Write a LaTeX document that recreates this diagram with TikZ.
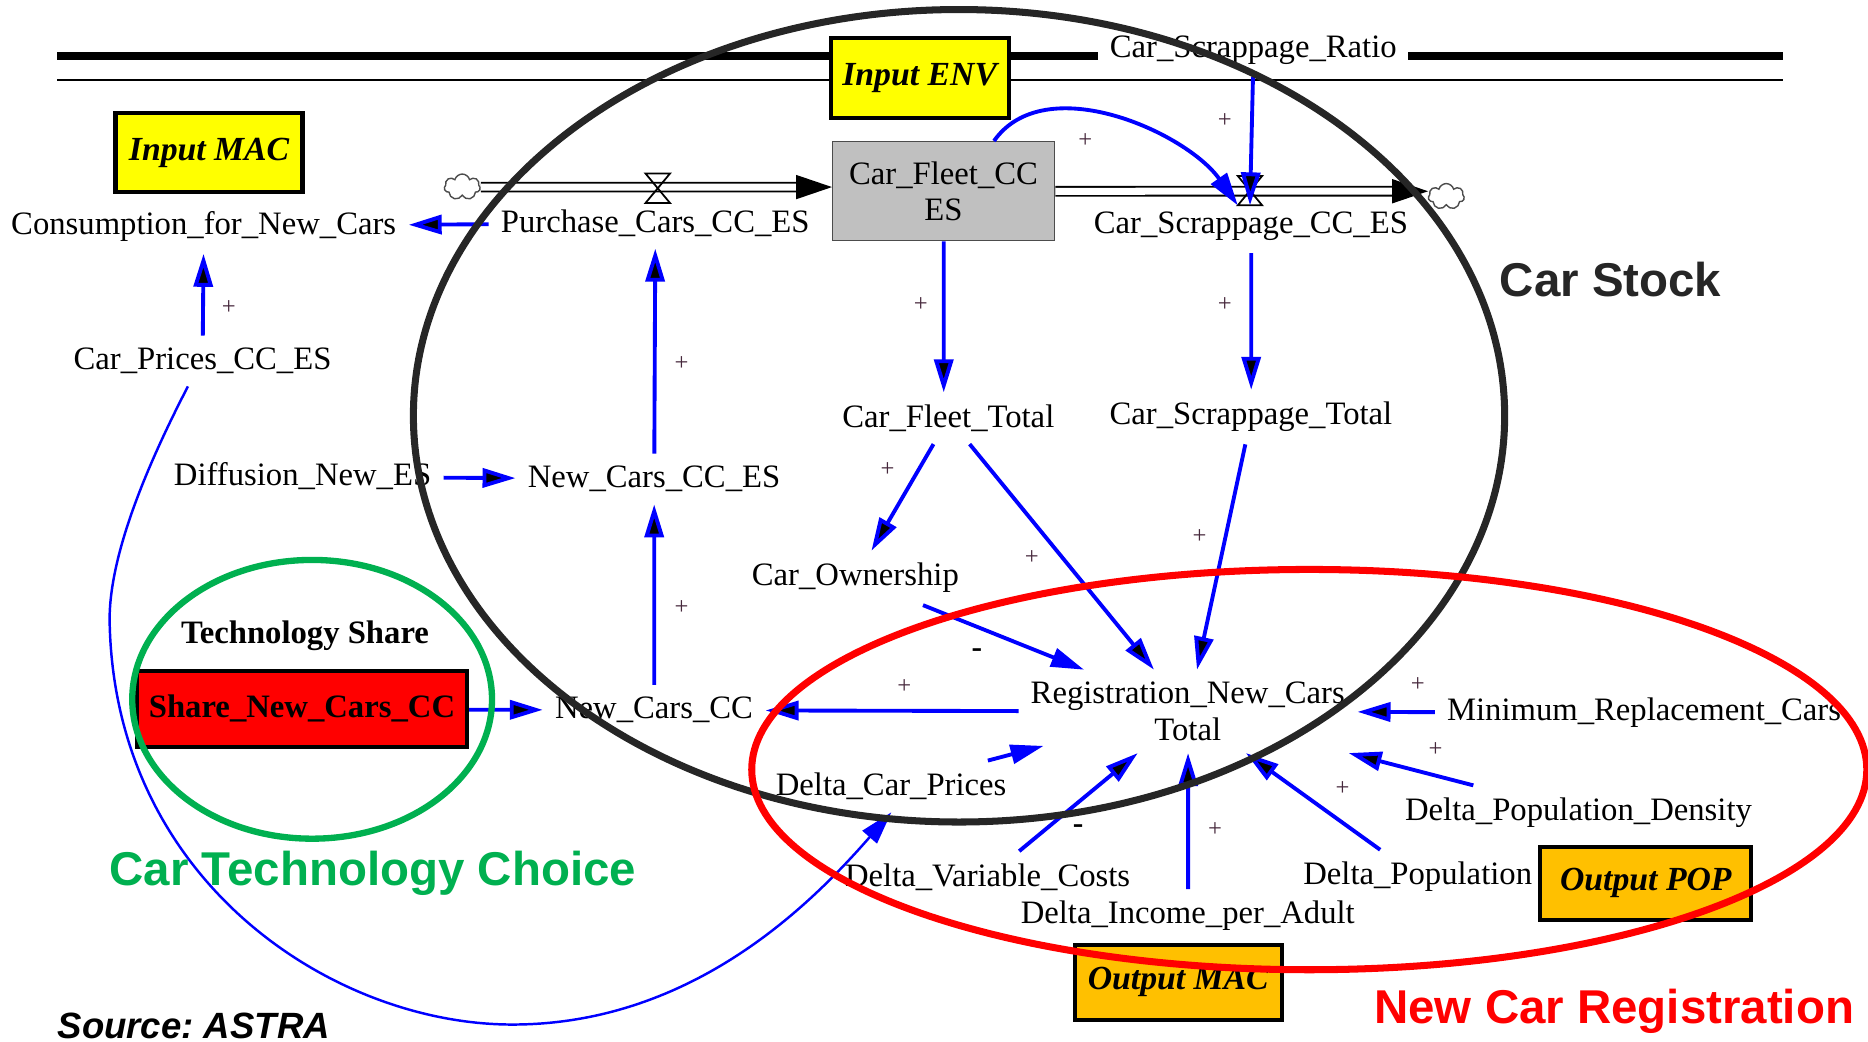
\documentclass[tikz,border=0pt]{standalone}
\usepackage{fontspec}
\setmainfont{Liberation Serif}
\setsansfont{Liberation Sans}
\usetikzlibrary{arrows.meta, shapes.symbols}

\newcommand{\scalefac}{1.1913}

\definecolor{linkblue}{RGB}{0,0,255}
\definecolor{inyellow}{RGB}{255,255,0}
\definecolor{outorange}{RGB}{255,192,0}
\definecolor{stockgray}{RGB}{192,192,192}
\definecolor{choicegreen}{RGB}{0,176,80}
\definecolor{ringblack}{RGB}{38,38,38}
\definecolor{polcol}{RGB}{70,40,60}

\tikzset{
  var/.style = {font = \fontsize{9.3}{10.4}\selectfont, align = center},
  varbox/.style = {draw, line width = 1.2pt, font = \fontsize{9.6}{11}\selectfont\bfseries\itshape},
  link/.style = {draw = linkblue, line width = 1.1pt, -{Triangle[length = 3.3mm, width = 1.9mm]}},
  pipe/.style = {draw = black, double = white, double distance = 0.7mm, line width = 0.5pt, -{Triangle[length = 3.6mm, width = 2.4mm]}},
  pol/.style = {font = \fontsize{7}{7}\selectfont, text = polcol, inner sep = 0pt},
  neg/.style = {font = \fontsize{9}{9}\selectfont\bfseries, inner sep = 0pt},
  cloudy/.style = {cloud, cloud puffs = 7, cloud ignores aspect, draw = black!70, minimum width = 3.6mm, minimum height = 2.6mm, inner sep = 0pt},
  valve/.style = {minimum width = 2.3mm, minimum height = 2.8mm, inner sep = 0pt},
  region/.style = {font = \fontsize{13.5}{14}\selectfont\sffamily\bfseries}
}

\begin{document}
\begin{tikzpicture}[scale = \scalefac, x = 1cm, y = -1cm]

\useasboundingbox (0,0) rectangle (15.68,8.74);

\draw [line width = 2.3pt] (0.48,0.47) -- (14.97,0.47);
\draw [line width = 0.4pt] (0.48,0.67) -- (14.97,0.67);

\node [varbox, fill = inyellow, minimum width = 1.87cm, minimum height = 0.79cm] (v1) at (1.755,1.28) {Input MAC};
\node [varbox, fill = inyellow, minimum width = 1.69cm, minimum height = 0.80cm] (v2) at (7.72,0.655) {Input ENV};
\node [var] (v3) at (1.71,1.90) {Consumption\_for\_New\_Cars};
\node [var] (v4) at (5.50,1.87) {Purchase\_Cars\_CC\_ES};
\node [var, draw = black!70, fill = stockgray, minimum width = 2.22cm, minimum height = 0.99cm] (v5) at (7.92,1.605) {Car\_Fleet\_CC\\ES};
\node [var] (v6) at (10.50,1.90) {Car\_Scrappage\_CC\_ES};
\node [var, fill = white] (v7) at (10.52,0.42) {Car\_Scrappage\_Ratio};
\node [var] (v8) at (1.70,3.03) {Car\_Prices\_CC\_ES};
\node [var] (v9) at (2.54,4.00) {Diffusion\_New\_ES};
\node [var] (v10) at (5.49,4.02) {New\_Cars\_CC\_ES};
\node [var] (v11) at (7.96,3.51) {Car\_Fleet\_Total};
\node [var] (v12) at (10.50,3.50) {Car\_Scrappage\_Total};
\node [var] (v13) at (7.18,4.85) {Car\_Ownership};
\node [var, font = \fontsize{9.3}{10.4}\selectfont\bfseries] (v14) at (2.56,5.34) {Technology Share};
\node [varbox, fill = red, font = \fontsize{9.3}{11}\selectfont\bfseries, minimum width = 3.23cm, minimum height = 0.76cm] (v15) at (2.535,5.95) {Share\_New\_Cars\_CC};
\node [var] (v16) at (5.49,5.96) {New\_Cars\_CC};
\node [var] (v17) at (9.97,5.97) {Registration\_New\_Cars\\Total};
\node [var] (v18) at (13.80,5.98) {Minimum\_Replacement\_Cars};
\node [var] (v19) at (7.48,6.60) {Delta\_Car\_Prices};
\node [var] (v20) at (13.25,6.82) {Delta\_Population\_Density};
\node [var] (v21) at (8.29,7.36) {Delta\_Variable\_Costs};
\node [var] (v22) at (11.90,7.36) {Delta\_Population};
\node [var] (v23) at (9.97,7.69) {Delta\_Income\_per\_Adult};
\node [varbox, fill = outorange, minimum width = 2.11cm, minimum height = 0.73cm] (v24) at (13.815,7.415) {Output POP};
\node [varbox, fill = outorange, minimum width = 2.07cm, minimum height = 0.75cm] (v25) at (9.89,8.245) {Output MAC};
\node [cloudy] (v26) at (3.88,1.57) {};
\node [cloudy] (v27) at (12.14,1.65) {};
\node [valve] (v28) at (5.52,1.58) {};
\node [valve] (v29) at (10.49,1.60) {};

% stock and flows
\draw [pipe] (v26) -- (v26 -| v5.west);
\draw [pipe] (v5) -- (v5 -| v27.west);
\draw [line width = 0.5pt] (v28.north west) -- (v28.north east) -- (v28.south west) -- (v28.south east) -- cycle;
\draw [line width = 0.5pt] (v29.north west) -- (v29.north east) -- (v29.south west) -- (v29.south east) -- cycle;

% links
\draw [link] (v4) edge (v3);
\draw [link] (v8) edge (v3);
\draw [link] (v10) edge (v4);
\draw [link] (v16) edge (v10);
\draw [link] (v9) edge (v10);
\draw [link] (v15) edge (v16);
\draw [link] (v17) edge (v16);
\draw [link] (v5) edge (v5 |- v11.north);
\draw [link] (v6) edge (v12);
\draw [link] (v7) edge (v29.south);
\draw [link] (v5.45) to [out = 55, in = 125, looseness = 0.9] (v29.south west);
\draw [link] (v11) edge (v13);
\draw [link] (v11) edge (v17);
\draw [link] (v12) edge (v17);
\draw [link] (v13.-22) -- (v17);
\draw [link] (v19.15) -- ([xshift = 2.1mm, yshift = 0.6mm]v17.south west);
\draw [link] (v21) edge (v17);
\draw [link] (v23) edge (v17);
\draw [link] (v22) edge (v17);
\draw [link] (v20) edge (v17);
\draw [link] (v18) edge (v17);
\draw [link, line width = 0.7pt] (v8.240) .. controls (1.30,3.78) and (0.92,4.60) .. (0.92,5.20) .. controls (0.95,7.40) and (2.80,8.60) .. (4.30,8.60) .. controls (5.80,8.60) and (6.80,7.60) .. (v19.south);

\node [pol] (p1) at (1.92,2.58) {+};
\node [pol] (p2) at (5.72,3.05) {+};
\node [pol] (p3) at (5.72,5.10) {+};
\node [pol] (p4) at (7.59,5.76) {+};
\node [pol] (p5) at (7.73,2.56) {+};
\node [pol] (p6) at (10.28,2.56) {+};
\node [pol] (p7) at (10.28,1.01) {+};
\node [pol] (p8) at (9.11,1.18) {+};
\node [pol] (p9) at (7.45,3.94) {+};
\node [pol] (p10) at (8.66,4.68) {+};
\node [pol] (p11) at (10.07,4.50) {+};
\node [neg] (n1) at (8.20,5.48) {-};
\node [neg] (n2) at (9.05,6.96) {-};
\node [pol] (p12) at (10.20,6.96) {+};
\node [pol] (p13) at (11.27,6.62) {+};
\node [pol] (p14) at (12.05,6.29) {+};
\node [pol] (p15) at (11.90,5.75) {+};

% regions
\draw [ringblack, line width = 2pt] (8.05,3.49) ellipse [x radius = 4.58, y radius = 3.41];
\draw [red, line width = 2pt] (10.99,6.46) ellipse [x radius = 4.68, y radius = 1.68];
\draw [choicegreen, line width = 1.8pt] (2.62,5.87) ellipse [x radius = 1.51, y radius = 1.17];

\node [region, text = ringblack] (r1) at (13.52,2.35) {Car Stock};
\node [region, text = red] (r2) at (13.55,8.49) {New Car Registration};
\node [region, text = choicegreen] (r3) at (3.13,7.33) {Car Technology Choice};
\node [font = \fontsize{10.4}{11}\selectfont\sffamily\bfseries\itshape, anchor = base west] (r4) at (0.38,8.72) {Source:\ ASTRA};

\end{tikzpicture}
\end{document}
